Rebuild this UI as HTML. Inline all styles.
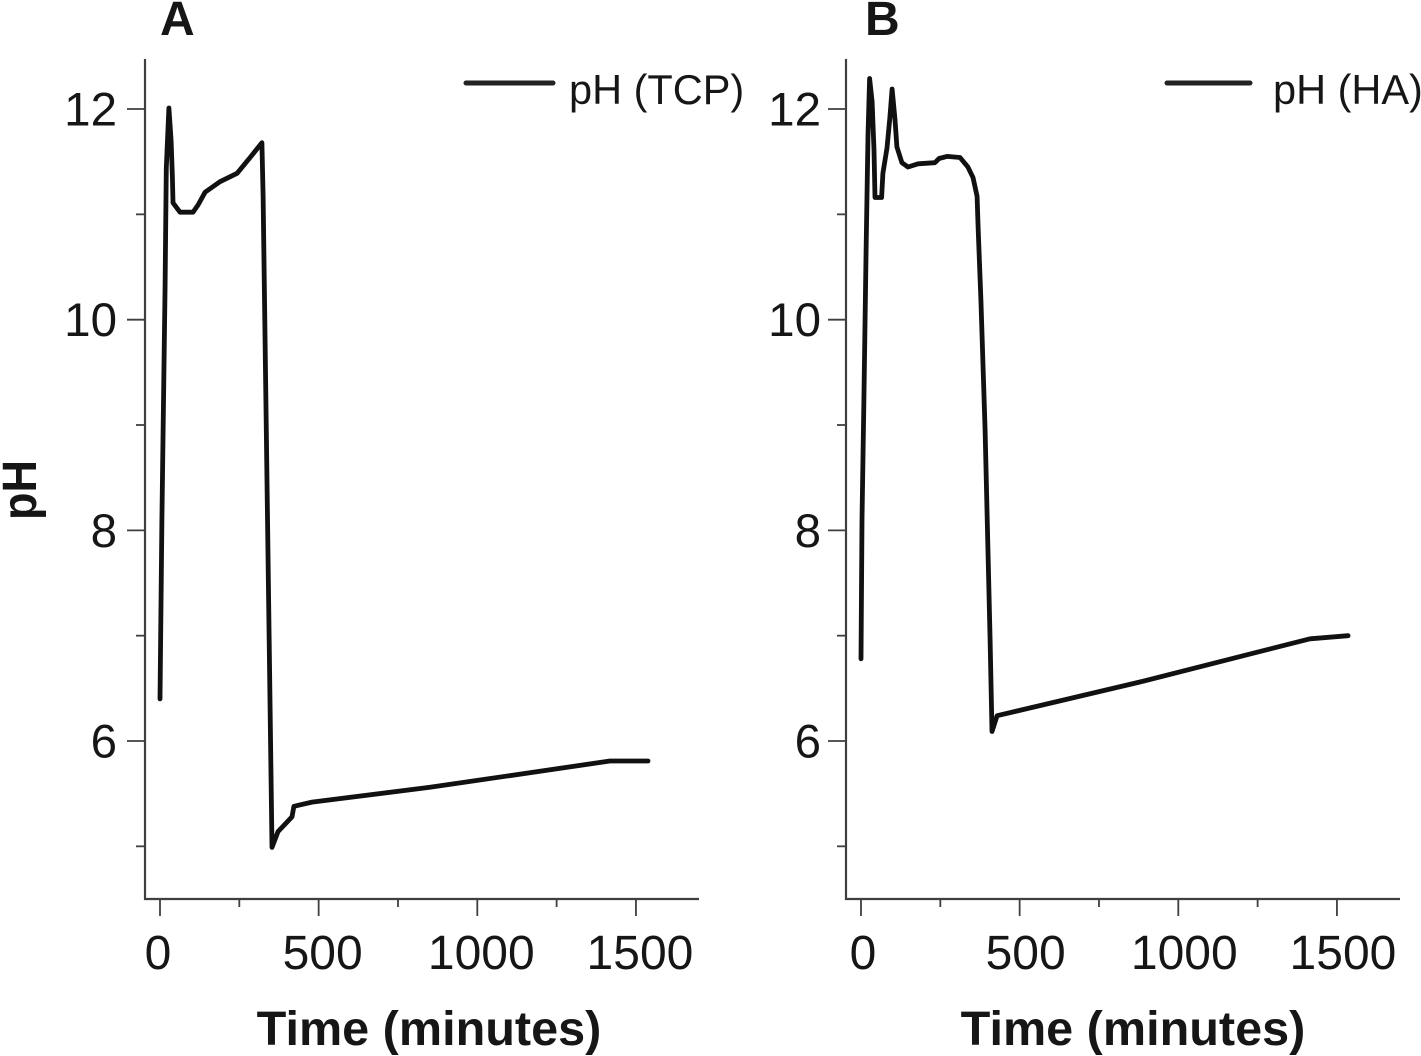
<!DOCTYPE html>
<html lang="en">
<head>
<meta charset="utf-8">
<title>pH over time for TCP and HA</title>
<style>
html,body{margin:0;padding:0;background:#fff;width:1421px;height:1056px;overflow:hidden}
svg{display:block}
text{font-family:"Liberation Sans",Arial,sans-serif;fill:#161616}
</style>
</head>
<body>
<svg id="chart" width="1421" height="1056" viewBox="0 0 1421 1056" xmlns="http://www.w3.org/2000/svg"></svg>
<script>
const xMajorTicks = [0, 500, 1000, 1500];
const xMinorTicks = [250, 750, 1250];
const yMajorTicks = [6, 8, 10, 12];
const yMinorTicks = [5, 7, 9, 11];

const tcpMinutes = [0, 6, 16, 20, 28, 35, 39, 41, 63, 104, 120, 142, 189, 243, 284, 321, 325, 353, 372, 416, 422, 479, 851, 1418, 1538];
const tcpPH = [6.4, 8.1, 10.33, 11.44, 12.01, 11.7, 11.35, 11.11, 11.02, 11.02, 11.09, 11.21, 11.31, 11.39, 11.54, 11.68, 11.18, 4.99, 5.14, 5.28, 5.38, 5.42, 5.56, 5.81, 5.81];

const haMinutes = [0, 3, 9, 16, 22, 27, 35, 41, 44, 65, 69, 82, 91, 98, 107, 113, 129, 148, 180, 233, 246, 271, 312, 337, 353, 366, 369, 378, 391, 407, 413, 429, 879, 1415, 1535];
const haPH = [6.78, 8.1, 9.24, 10.66, 11.75, 12.29, 12.07, 11.61, 11.16, 11.16, 11.39, 11.63, 11.92, 12.19, 11.9, 11.64, 11.49, 11.45, 11.48, 11.49, 11.53, 11.55, 11.54, 11.45, 11.35, 11.17, 10.88, 10.19, 8.95, 6.96, 6.09, 6.24, 6.56, 6.97, 7.0];

const svg = document.getElementById('chart');
const NS = 'http://www.w3.org/2000/svg';
const AXIS = '#3f3f3f';

function make(tag, props, parent) {
  const el = document.createElementNS(NS, tag);
  for (const k in props) el.setAttribute(k, props[k]);
  (parent || svg).appendChild(el);
  return el;
}

function yScale(v) { return 741 - (v - 6) * 105.33; }

function drawPanel(opts) {
  const xScale = t => opts.x0 + t * 0.3173;
  const g = make('g', {});
  
  

  const panelLetter = make('text', {x: opts.letterX, y: 35, 'font-size': 48, 'font-weight': 'bold'}, g);
  panelLetter.textContent = opts.letter;
  
  

  const yAxis = make('line', {x1: opts.axisX, x2: opts.axisX, y1: 59, y2: 900, stroke: AXIS, 'stroke-width': 2.2}, g);
  
  

  const xAxis = make('line', {x1: opts.axisX - 1, x2: opts.axisX + 554, y1: 899, y2: 899, stroke: AXIS, 'stroke-width': 2.2}, g);
  
  

  yMajorTicks.forEach(v => {
    const tick = make('line', {x1: opts.axisX - 18, x2: opts.axisX, y1: yScale(v), y2: yScale(v), stroke: AXIS, 'stroke-width': 1.8}, g);
    
    
    const label = make('text', {x: opts.axisX - opts.yLabelGap, y: yScale(v) + 16.5, 'font-size': 47.5, 'text-anchor': 'end'}, g);
    label.textContent = v;
    
    
  });
  yMinorTicks.forEach(v => {
    const tick = make('line', {x1: opts.axisX - 9, x2: opts.axisX, y1: yScale(v), y2: yScale(v), stroke: AXIS, 'stroke-width': 1.8}, g);
    
    
  });
  xMajorTicks.forEach(t => {
    const tick = make('line', {x1: xScale(t), x2: xScale(t), y1: 899, y2: 916, stroke: AXIS, 'stroke-width': 1.8}, g);
    
    
    const nudge = t === 0 ? opts.zeroNudge : opts.labelNudge;
    const label = make('text', {x: xScale(t) + nudge, y: 969, 'font-size': 48, 'text-anchor': 'middle'}, g);
    label.textContent = t;
    
    
  });
  xMinorTicks.forEach(t => {
    const tick = make('line', {x1: xScale(t), x2: xScale(t), y1: 899, y2: 907, stroke: AXIS, 'stroke-width': 1.8}, g);
    
    
  });

  const xTitle = make('text', {x: opts.titleX, y: 1045, 'font-size': 48.6, 'font-weight': 'bold', 'text-anchor': 'middle'}, g);
  xTitle.textContent = 'Time (minutes)';
  
  

  const pts = opts.times.map((t, i) => xScale(t).toFixed(1) + ',' + yScale(opts.values[i]).toFixed(1)).join(' ');
  const series = make('polyline', {points: pts, fill: 'none', stroke: '#111', 'stroke-width': 4.8, 'stroke-linejoin': 'round', 'stroke-linecap': 'round'}, g);
  
  

  const legendLine = make('line', {x1: opts.legendX1, x2: opts.legendX2, y1: 83, y2: 83, stroke: '#222', 'stroke-width': 5, 'stroke-linecap': 'round'}, g);
  
  

  const legendText = make('text', {x: opts.legendTextX, y: 104, 'font-size': 41.5}, g);
  legendText.textContent = opts.legend;
  
  
}

drawPanel({key: 'tcp', letter: 'A', letterX: 160, x0: 160, axisX: 145, times: tcpMinutes, values: tcpPH,
  legend: 'pH (TCP)', legendX1: 466, legendX2: 553, legendTextX: 569,
  yLabelGap: 28, zeroNudge: -2, labelNudge: 4, titleX: 429});
drawPanel({key: 'ha', letter: 'B', letterX: 865, x0: 861, axisX: 846, times: haMinutes, values: haPH,
  legend: 'pH (HA)', legendX1: 1167, legendX2: 1250, legendTextX: 1273,
  yLabelGap: 25, zeroNudge: 2, labelNudge: 6, titleX: 1133});

const yTitle = make('text', {x: 0, y: 0, 'font-size': 48, 'font-weight': 'bold', 'text-anchor': 'middle', textLength: 60, lengthAdjust: 'spacingAndGlyphs', transform: 'translate(36,490) rotate(-90)'});
yTitle.textContent = 'pH';


</script>
</body>
</html>
